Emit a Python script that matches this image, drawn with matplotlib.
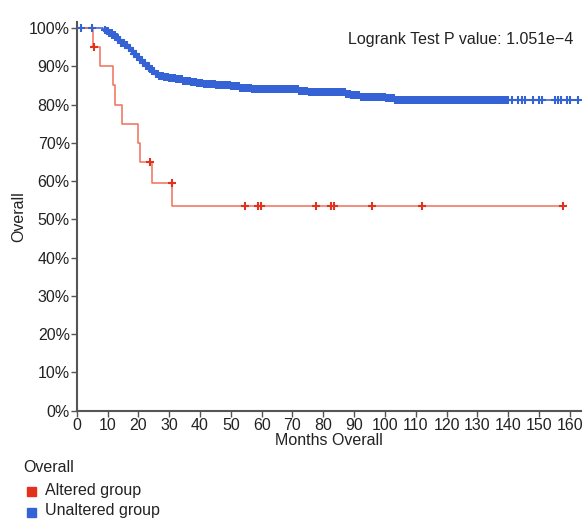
import numpy as np
import matplotlib
matplotlib.use("Agg")
import matplotlib.pyplot as plt
from matplotlib.patches import Rectangle

plt.rcParams['font.family'] = ['Liberation Sans', 'DejaVu Sans']

# Kaplan-Meier step data (months, survival %)
altered_times = [0, 5.3, 7.6, 11.7, 12.4, 14.6, 19.8, 20.5, 24.5, 31.0]
altered_surv = [100, 95, 90, 85, 80, 75, 70, 65, 59.6, 53.6]
altered_censor = [5.7, 23.8, 30.8, 54.6, 58.8, 59.8, 77.7, 82.5, 83.5, 95.8, 112.0, 157.7]
altered_end = 157.7

unaltered_times = [0, 8.5, 9.5, 10.5, 11.5, 12.5, 13.5, 14.5, 15.5, 16.5, 17.5, 18.5,
                   19.5, 20.5, 21.5, 22.5, 23.5, 24.5, 25.5, 26.5, 28.0, 30.0, 32.0,
                   34.5, 37.0, 39.0, 41.0, 45.0, 50.0, 53.0, 57.0, 63.0, 72.0, 75.0,
                   87.0, 89.0, 92.0, 100.0, 103.0]
unaltered_surv = [100, 99.6, 99.2, 98.8, 98.3, 97.7, 97.0, 96.2, 95.5, 94.8, 94.0, 93.2,
                  92.4, 91.6, 90.8, 90.0, 89.3, 88.7, 88.1, 87.6, 87.2, 86.9, 86.6,
                  86.3, 86.0, 85.6, 85.3, 85.1, 84.8, 84.4, 84.2, 84.0, 83.6, 83.2,
                  82.8, 82.4, 82.0, 81.7, 81.3]
unaltered_censor = [1.5, 4.9, 9.2, 9.7, 10.1, 10.6, 10.9, 11.3, 11.6, 12.0, 12.4, 12.7,
                    13.0, 13.5, 13.9, 14.2, 14.5, 15.0, 15.3, 15.7, 16.0, 16.4, 16.8,
                    17.1, 17.4, 17.9, 18.3, 18.6, 19.0, 19.3, 19.6, 20.1, 20.5, 20.8,
                    21.1, 21.5, 21.9, 22.3, 22.6, 23.0, 23.4, 23.7, 24.0, 24.5, 24.9,
                    25.2, 25.6, 25.9, 26.3, 26.8, 27.2, 27.5, 27.9, 28.4, 28.8, 29.2,
                    29.6, 30.0, 30.4, 30.9, 31.5, 31.9, 32.3, 32.8, 33.4, 33.8, 34.2,
                    34.6, 35.1, 35.7, 36.3, 36.6, 37.0, 37.6, 38.2, 38.6, 39.1, 39.5,
                    40.0, 40.6, 41.2, 41.6, 42.1, 42.5, 42.9, 43.3, 43.8, 44.4, 44.9,
                    45.3, 45.7, 46.1, 46.5, 47.0, 47.4, 47.9, 48.3, 48.8, 49.2, 49.6,
                    50.1, 50.6, 51.0, 51.4, 51.8, 52.2, 52.7, 53.1, 53.6, 54.0, 54.4,
                    54.9, 55.3, 55.7, 56.1, 56.5, 57.0, 57.5, 57.9, 58.4, 58.8, 59.2,
                    59.6, 60.1, 60.5, 61.0, 61.4, 61.8, 62.2, 62.7, 63.1, 63.5, 64.0,
                    64.4, 64.8, 65.2, 65.7, 66.2, 66.6, 67.0, 67.4, 67.9, 68.3, 68.8,
                    69.2, 69.6, 70.0, 70.5, 70.9, 71.3, 71.8, 72.2, 72.6, 73.1, 73.5,
                    73.9, 74.3, 74.8, 75.2, 75.7, 76.1, 76.6, 77.0, 77.4, 77.8, 78.3,
                    78.7, 79.1, 79.5, 80.0, 80.4, 80.9, 81.3, 81.7, 82.1, 82.6, 83.0,
                    83.5, 83.9, 84.3, 84.7, 85.2, 85.6, 86.0, 86.4, 86.9, 87.3, 87.8,
                    88.2, 88.6, 89.1, 89.5, 89.9, 90.4, 90.8, 91.2, 91.6, 92.1, 92.5,
                    93.0, 93.4, 93.8, 94.2, 94.7, 95.1, 95.6, 96.0, 96.4, 96.8, 97.3,
                    97.7, 98.1, 98.5, 99.0, 99.4, 99.9, 100.3, 100.7, 101.1, 101.6,
                    102.0, 102.5, 102.9, 103.3, 103.7, 104.2, 104.6, 105.0, 105.4,
                    105.9, 106.3, 106.8, 107.2, 107.6, 108.0, 108.5, 108.9, 109.4,
                    109.8, 110.2, 110.6, 111.1, 111.5, 111.9, 112.3, 112.8, 113.2,
                    113.7, 114.1, 114.6, 115.0, 115.4, 115.8, 116.3, 116.7, 117.1,
                    117.5, 118.0, 118.4, 118.9, 119.3, 119.7, 120.1, 120.6, 121.0,
                    121.4, 121.8, 122.3, 122.7, 123.2, 123.6, 124.0, 124.4, 124.9,
                    125.3, 125.8, 126.2, 126.6, 127.0, 127.5, 127.9, 128.3, 128.7,
                    129.2, 129.6, 130.1, 130.5, 130.9, 131.3, 131.8, 132.2, 132.6,
                    133.0, 133.5, 133.9, 134.4, 134.8, 135.2, 135.6, 136.1, 136.5,
                    137.0, 137.4, 137.8, 138.2, 138.7, 139.1, 139.6, 140.0, 141.2,
                    143.3, 144.4, 145.6, 148.0, 150.1, 150.9, 155.2, 156.3, 157.0,
                    159.2, 160.1, 162.6]
unaltered_end = 162.6

x_ticks = list(range(0, 161, 10))
y_ticks = list(range(0, 101, 10))
p_text = "Logrank Test P value: 1.051e\u22124"
group_names = ["Altered group", "Unaltered group"]

red_line = "#f0705a"
red_mark = "#e2321e"
blue_line = "#2f5fd2"
blue_mark = "#3563d6"
axis_gray = "#555555"
text_col = "#222222"
fs = 11.5

fig = plt.figure(figsize=(5.83, 5.21), dpi=100)
ax = fig.add_axes([0.1316, 0.2117, 0.8644, 0.7461])


def km_curve(times, surv, end, censor, lc, mc):
    t = list(times) + [end]
    s = list(surv) + [surv[-1]]
    ax.step(t, s, where="post", color=lc, lw=1.1, zorder=2)
    idx = np.searchsorted(np.array(times), np.array(censor), side="right") - 1
    cy = np.array(surv)[idx]
    ax.plot(censor, cy, linestyle="none", marker="+", markersize=6,
            markeredgewidth=1.5, color=mc, zorder=3)


km_curve(unaltered_times, unaltered_surv, unaltered_end, unaltered_censor, blue_line, blue_mark)
km_curve(altered_times, altered_surv, altered_end, altered_censor, red_line, red_mark)

ax.set_xlim(0, 163.5)
ax.set_ylim(0, 101.6)
ax.set_xticks(x_ticks)
ax.set_yticks(y_ticks)
ax.set_yticklabels([f"{v}%" for v in y_ticks])
for side in ("top", "right"):
    ax.spines[side].set_visible(False)
for side in ("left", "bottom"):
    ax.spines[side].set_color(axis_gray)
    ax.spines[side].set_linewidth(1.5)
ax.tick_params(direction="out", length=4, width=1, colors=axis_gray,
               labelcolor=text_col, labelsize=fs, pad=1)
ax.set_xlabel("Months Overall", fontsize=fs, color=text_col, labelpad=0)
ax.set_ylabel("Overall", fontsize=fs, color=text_col, labelpad=2)

ax.text(0.985, 0.955, p_text, transform=ax.transAxes, ha="right", va="center",
        fontsize=fs, color=text_col)

# legend block under the plot
fig.text(23 / 583, 1 - 467 / 521, "Overall", ha="left", va="center",
         fontsize=fs, color=text_col)
for i, (name, c) in enumerate(zip(group_names, [red_mark, blue_mark])):
    yc = 1 - (491 + 21 * i) / 521
    fig.patches.append(Rectangle((27 / 583, yc - 5 / 521), 9 / 583, 9 / 521,
                                 transform=fig.transFigure, color=c))
    fig.text(45 / 583, yc + 1 / 521, name, ha="left", va="center",
             fontsize=fs, color=text_col)

fig.savefig("out.png", dpi=100)
